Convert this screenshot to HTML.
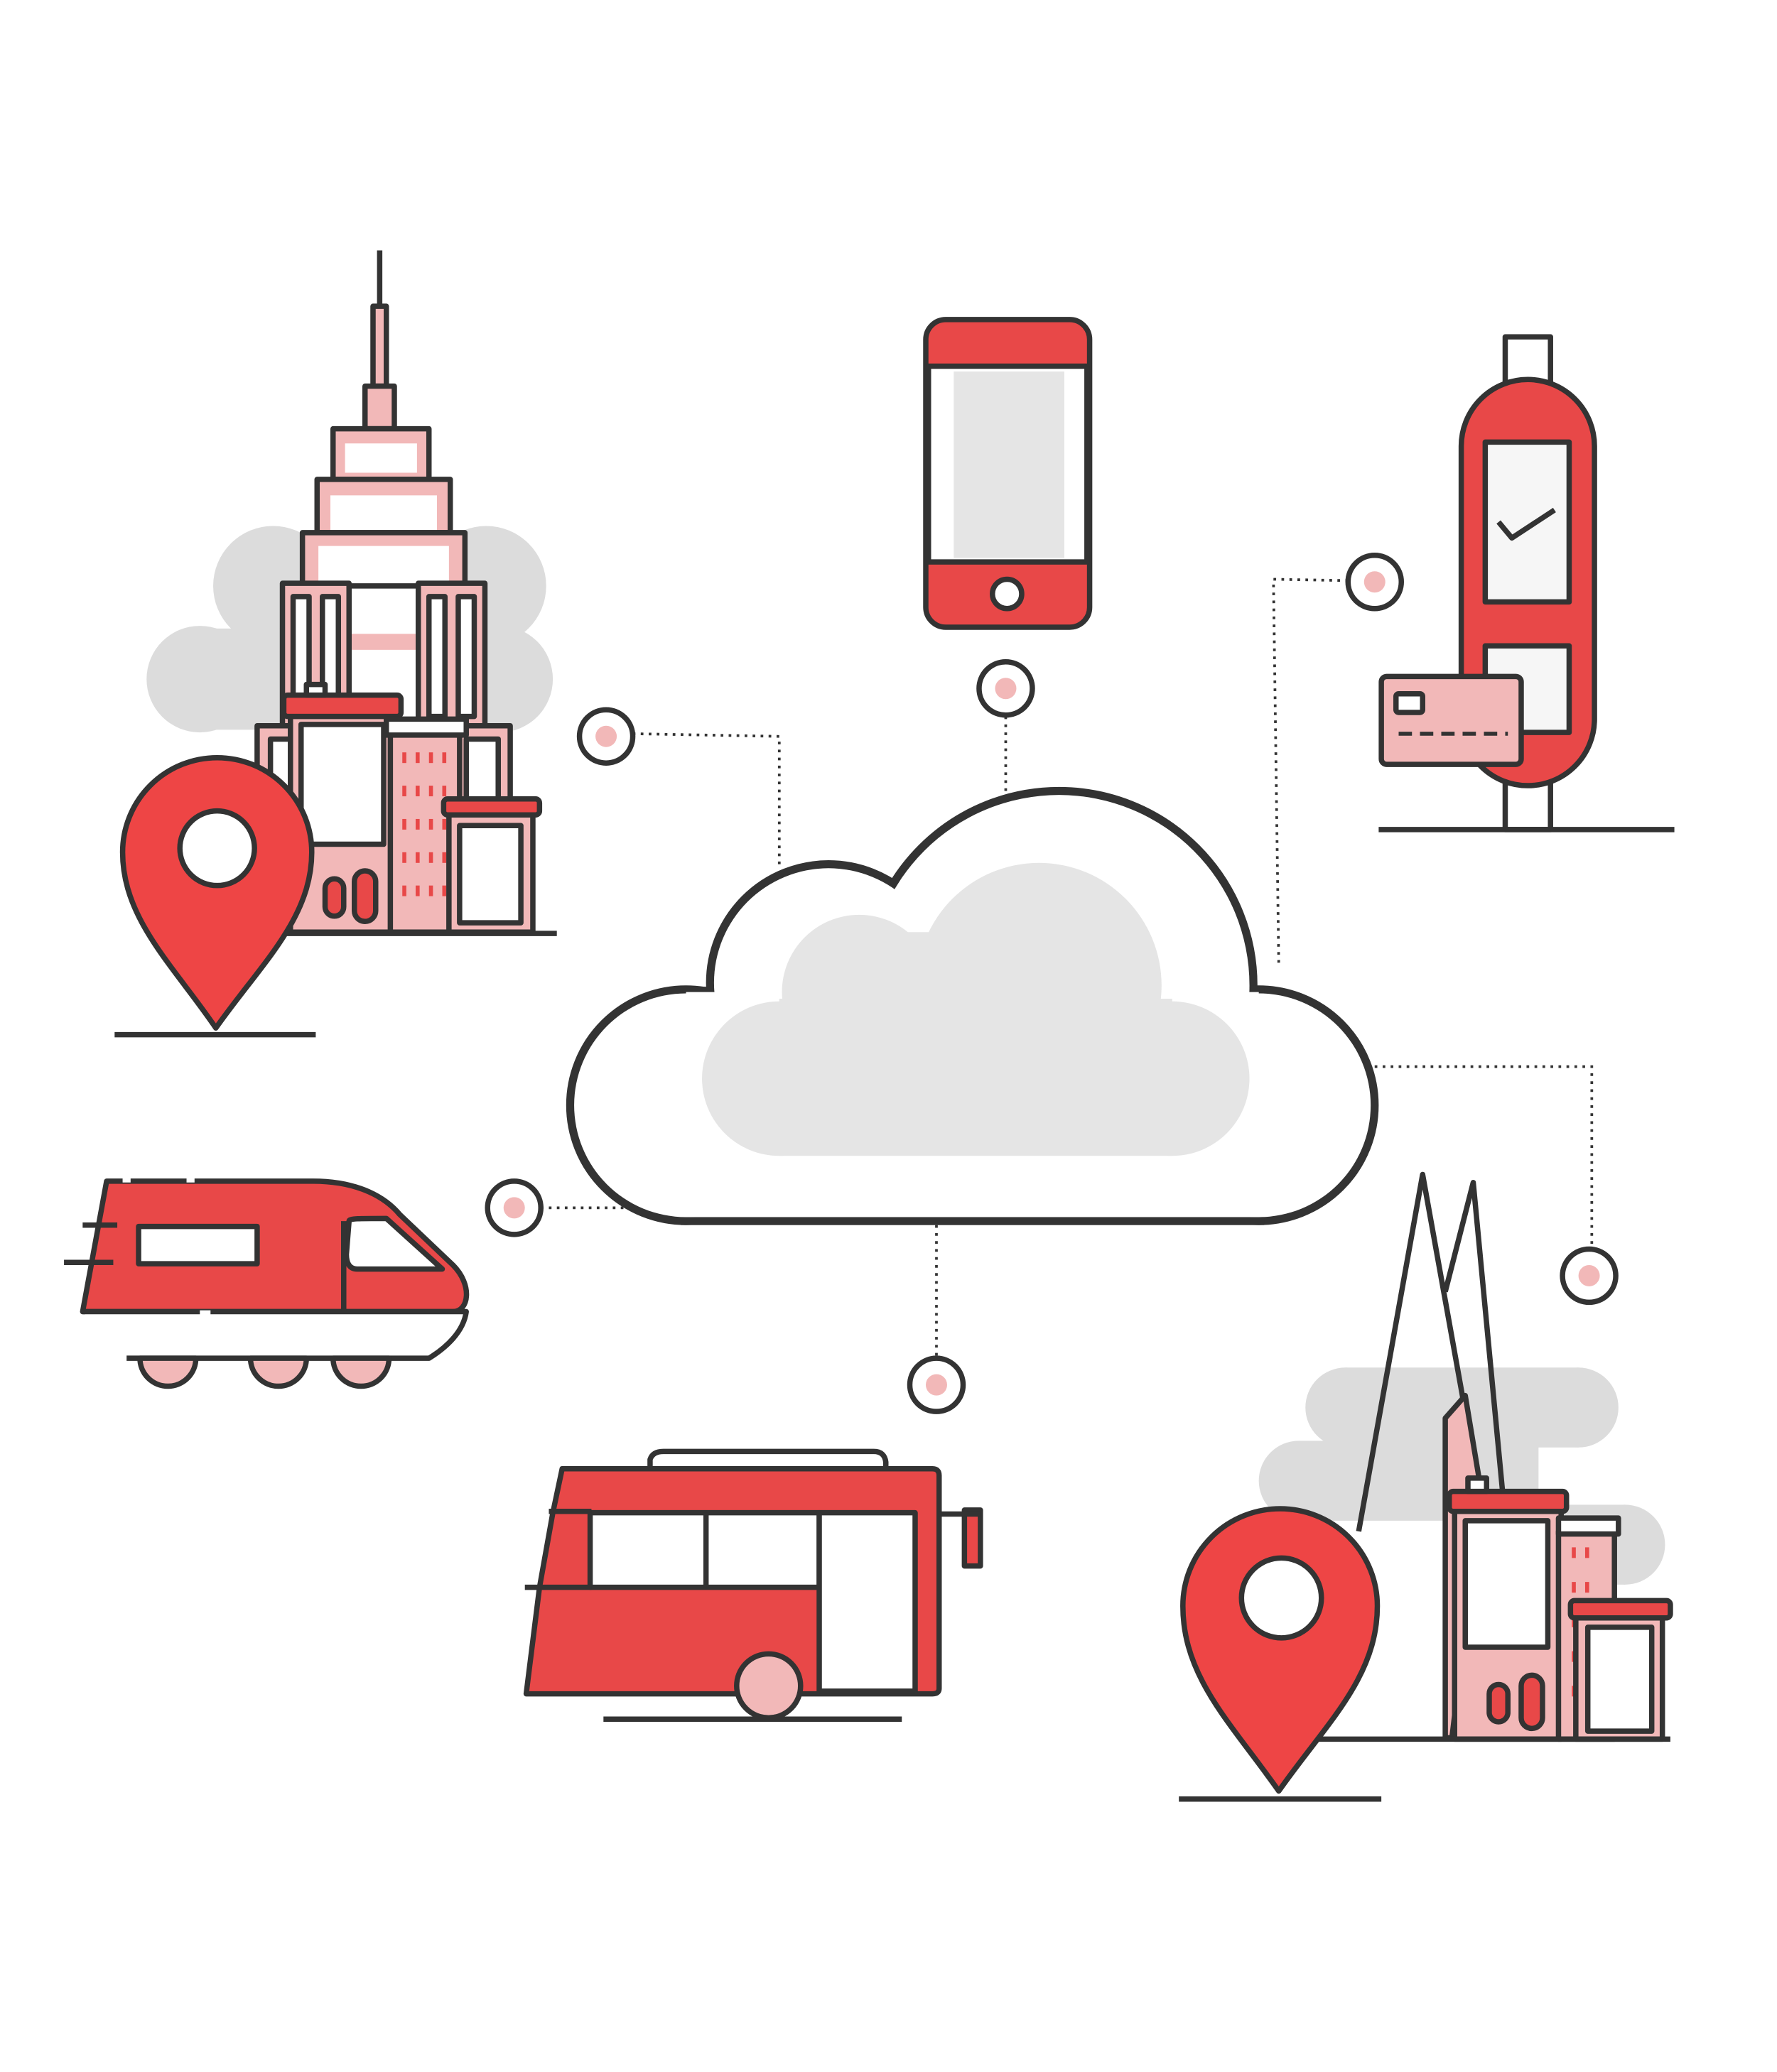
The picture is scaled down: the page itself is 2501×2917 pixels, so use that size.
<!DOCTYPE html>
<html><head><meta charset="utf-8"><style>
html,body{margin:0;padding:0;background:#fff;}
svg{display:block;}
</style></head><body>
<svg width="2501" height="2917" viewBox="0 0 1334 1556" xmlns="http://www.w3.org/2000/svg">
<defs>
<style>
.s{stroke:#333;stroke-width:4;stroke-linejoin:round;}
.d{stroke:#333;stroke-width:2;stroke-dasharray:2 4;fill:none;}
.r{fill:#e84848;} .p{fill:#f2b8b8;} .w{fill:#fff;} .g{fill:#e5e5e5;} .n{fill:none;}
</style>
</defs>
<rect width="1334" height="1556" fill="#fff"/>

<polyline class="d" points="475,551 585,553 585,650"/>
<line class="d" x1="755" y1="538" x2="755" y2="595"/>
<polyline class="d" points="1012,436 956,435 960,725"/>
<polyline class="d" points="1032,801 1195,801 1195,938"/>
<line class="d" x1="406" y1="907" x2="470" y2="907"/>
<line class="d" x1="703" y1="920" x2="703" y2="1020"/>
<g class="s w">
<circle cx="455" cy="553" r="20"/><circle cx="755" cy="517" r="20"/><circle cx="1032" cy="437" r="20"/>
<circle cx="1193" cy="958" r="20"/><circle cx="386" cy="907" r="20"/><circle cx="703" cy="1040" r="20"/>
</g>
<g class="p">
<circle cx="455" cy="553" r="8"/><circle cx="755" cy="517" r="8"/><circle cx="1032" cy="437" r="8"/>
<circle cx="1193" cy="958" r="8"/><circle cx="386" cy="907" r="8"/><circle cx="703" cy="1040" r="8"/>
</g>

<g stroke="#333" stroke-width="8" fill="#333">
<circle cx="515" cy="830" r="86"/><circle cx="622" cy="738" r="88"/><circle cx="795" cy="740" r="145"/><circle cx="945" cy="830" r="86"/>
<rect x="515" y="745" width="430" height="171"/>
</g>
<g fill="#fff">
<circle cx="515" cy="830" r="84"/><circle cx="622" cy="738" r="86"/><circle cx="795" cy="740" r="143"/><circle cx="945" cy="830" r="84"/>
<rect x="515" y="745" width="430" height="169"/>
</g>
<g class="g">
<circle cx="645" cy="745" r="58"/><circle cx="780" cy="740" r="92"/><circle cx="585" cy="810" r="58"/><circle cx="880" cy="810" r="58"/>
<rect x="585" y="750" width="295" height="118"/><rect x="640" y="700" width="200" height="80"/>
</g>

<rect class="s r" x="695" y="240" width="123" height="231" rx="15"/>
<rect class="s w" x="697" y="275" width="119" height="147"/>
<rect class="g" x="716" y="279" width="83" height="140"/>
<circle class="s w" cx="756" cy="446" r="11"/>

<rect class="s w" x="1130" y="253" width="34" height="370"/>
<rect class="s r" x="1097" y="285" width="100" height="305" rx="50"/>
<rect class="s" fill="#f6f6f6" x="1115" y="332" width="63" height="120"/>
<polyline class="s n" points="1125,392 1135,404 1167,383"/>
<rect class="s" fill="#f6f6f6" x="1115" y="485" width="63" height="65"/>
<rect class="s p" x="1037" y="508" width="105" height="66" rx="4"/>
<rect class="s w" x="1048" y="521" width="20" height="14" rx="2"/>
<line x1="1050" y1="551" x2="1132" y2="551" stroke="#333" stroke-width="3" stroke-dasharray="10 6"/>
<line class="s" x1="1035" y1="623" x2="1257" y2="623"/>

<g fill="#dcdcdc">
<circle cx="205" cy="440" r="45"/><circle cx="365" cy="440" r="45"/><rect x="205" y="405" width="160" height="75"/>
<circle cx="150" cy="510" r="40"/><circle cx="375" cy="510" r="40"/><rect x="150" y="472" width="225" height="76"/>
</g>
<line class="s" x1="285" y1="188" x2="285" y2="230"/>
<rect class="s p" x="280" y="230" width="10" height="60"/>
<rect class="s p" x="274" y="290" width="22" height="32"/>
<rect class="s p" x="250" y="322" width="72" height="38"/><rect class="w" x="259" y="333" width="54" height="22"/>
<rect class="s p" x="238" y="360" width="100" height="40"/><rect class="w" x="248" y="372" width="80" height="26"/>
<rect class="s p" x="227" y="400" width="122" height="40"/><rect class="w" x="239" y="410" width="98" height="30"/>
<rect class="s w" x="262" y="440" width="52" height="108"/><rect class="p" x="264" y="476" width="48" height="12"/>
<rect class="s p" x="212" y="438" width="50" height="110"/><rect class="s p" x="314" y="438" width="50" height="110"/>
<rect class="s w" x="220" y="448" width="12" height="90"/><rect class="s w" x="242" y="448" width="12" height="90"/>
<rect class="s w" x="322" y="448" width="12" height="90"/><rect class="s w" x="344" y="448" width="12" height="90"/>
<rect class="s p" x="193" y="545" width="190" height="155"/>
<rect class="s w" x="203" y="555" width="18" height="50"/><rect class="s w" x="350" y="555" width="24" height="50"/>
<rect class="s p" x="218" y="535" width="78" height="165"/>
<rect class="s r" x="213" y="522" width="88" height="16" rx="3"/>
<rect class="s w" x="226" y="544" width="62" height="90"/>
<rect class="s w" x="230" y="514" width="14" height="8"/>
<rect class="s p" x="293" y="548" width="52" height="152"/>
<rect class="s w" x="290" y="540" width="60" height="12"/>
<g fill="#e84848">
<rect x="302" y="565" width="3" height="8"/><rect x="312" y="565" width="3" height="8"/><rect x="322" y="565" width="3" height="8"/><rect x="332" y="565" width="3" height="8"/>
<rect x="302" y="590" width="3" height="8"/><rect x="312" y="590" width="3" height="8"/><rect x="322" y="590" width="3" height="8"/><rect x="332" y="590" width="3" height="8"/>
<rect x="302" y="615" width="3" height="8"/><rect x="312" y="615" width="3" height="8"/><rect x="322" y="615" width="3" height="8"/><rect x="332" y="615" width="3" height="8"/>
<rect x="302" y="640" width="3" height="8"/><rect x="312" y="640" width="3" height="8"/><rect x="322" y="640" width="3" height="8"/><rect x="332" y="640" width="3" height="8"/>
<rect x="302" y="665" width="3" height="8"/><rect x="312" y="665" width="3" height="8"/><rect x="322" y="665" width="3" height="8"/><rect x="332" y="665" width="3" height="8"/>
</g>
<rect class="s p" x="337" y="610" width="63" height="90"/>
<rect class="s r" x="333" y="600" width="72" height="12" rx="3"/>
<rect class="s w" x="345" y="620" width="46" height="73"/>
<rect class="s r" x="244" y="660" width="14" height="28" rx="7"/><rect class="s r" x="266" y="654" width="16" height="38" rx="8"/>
<line class="s" x1="210" y1="701" x2="418" y2="701"/>
<path class="s" fill="#ee4545" d="M162,772 C130,725 92,690 92,640 A71,71 0 0 1 234,640 C234,690 195,725 162,772 Z"/>
<circle class="s w" cx="163" cy="637" r="28"/>
<line class="s" x1="86" y1="777" x2="237" y2="777"/>

<path class="s r" d="M80,887 L235,887 C270,887 290,900 300,912 L340,950 C355,965 352,985 340,985 L62,985 Z"/>
<path class="s w" d="M62,985 L350,985 C348,1000 335,1012 322,1020 L95,1020"/>
<path class="s w" d="M262,917 C262,915 270,915 290,915 L332,953 L268,953 C262,953 260,948 260,942 Z"/>
<line class="s" x1="258" y1="917" x2="258" y2="985"/>
<rect class="s w" x="104" y="921" width="89" height="28"/>
<line class="s" x1="48" y1="948" x2="85" y2="948"/>
<line class="s" x1="62" y1="920" x2="88" y2="920"/>
<line stroke="#fff" stroke-width="4" x1="92" y1="886" x2="98" y2="886"/><line stroke="#fff" stroke-width="4" x1="140" y1="886" x2="146" y2="886"/>
<line stroke="#fff" stroke-width="4" x1="150" y1="986" x2="158" y2="986"/>
<path class="s p" d="M105,1020 A20,20 0 0 0 147,1020 Z"/>
<path class="s p" d="M188,1020 A20,20 0 0 0 230,1020 Z"/>
<path class="s p" d="M250,1020 A20,20 0 0 0 292,1020 Z"/>

<path class="s w" d="M488,1104 L488,1096 Q490,1090 498,1090 L656,1090 Q664,1090 665,1098 L665,1104 Z"/>
<path class="s r" d="M422,1103 L700,1103 Q705,1103 705,1108 L705,1268 Q705,1272 700,1272 L395,1272 L405,1192 L415,1136 Z"/>
<rect class="s w" x="443" y="1136" width="172" height="56"/>
<line class="s" x1="530" y1="1136" x2="530" y2="1192"/>
<rect class="s w" x="615" y="1136" width="72" height="134"/>
<line class="s" x1="412" y1="1135" x2="444" y2="1135"/>
<line class="s" x1="394" y1="1192" x2="444" y2="1192"/>
<rect class="s r" x="724" y="1134" width="12" height="42"/>
<line class="s" x1="705" y1="1137" x2="736" y2="1137"/>
<circle class="s p" cx="577" cy="1266" r="24"/>
<line class="s" x1="453" y1="1291" x2="677" y2="1291"/>

<g fill="#dcdcdc">
<circle cx="1010" cy="1057" r="30"/><circle cx="1185" cy="1057" r="30"/><rect x="1010" y="1027" width="175" height="60"/>
<circle cx="975" cy="1112" r="30"/><circle cx="1220" cy="1160" r="30"/><rect x="975" y="1082" width="180" height="60"/><rect x="1150" y="1130" width="70" height="60"/>
</g>
<path class="s n" d="M1020,1150 L1068,882 L1100,1060"/>
<path class="s n" d="M1085,970 L1106,888 L1128,1120"/>
<path class="s p" d="M1085,1305 L1085,1065 L1100,1048 L1112,1120 L1090,1305 Z"/>
<rect class="s p" x="1092" y="1132" width="80" height="174"/>
<rect class="s r" x="1088" y="1120" width="88" height="15" rx="3"/>
<rect class="s w" x="1100" y="1142" width="62" height="95"/>
<rect class="s w" x="1102" y="1110" width="14" height="10"/>
<rect class="s p" x="1170" y="1150" width="42" height="156"/>
<rect class="s w" x="1170" y="1140" width="45" height="12"/>
<g fill="#e84848">
<rect x="1180" y="1162" width="3" height="8"/><rect x="1190" y="1162" width="3" height="8"/>
<rect x="1180" y="1188" width="3" height="8"/><rect x="1190" y="1188" width="3" height="8"/>
<rect x="1180" y="1214" width="3" height="8"/><rect x="1180" y="1240" width="3" height="8"/><rect x="1180" y="1266" width="3" height="8"/>
</g>
<rect class="s p" x="1183" y="1212" width="65" height="94"/>
<rect class="s r" x="1179" y="1202" width="75" height="13" rx="3"/>
<rect class="s w" x="1192" y="1222" width="48" height="78"/>
<rect class="s r" x="1118" y="1265" width="14" height="28" rx="7"/><rect class="s r" x="1142" y="1258" width="16" height="40" rx="8"/>
<line class="s" x1="990" y1="1306" x2="1254" y2="1306"/>
<path class="s" fill="#ee4545" d="M960,1345 C925,1295 888,1260 888,1206 A73,73 0 0 1 1034,1206 C1034,1260 995,1295 960,1345 Z"/>
<circle class="s w" cx="962" cy="1200" r="30"/>
<line class="s" x1="885" y1="1351" x2="1037" y2="1351"/>
</svg>
</body></html>
